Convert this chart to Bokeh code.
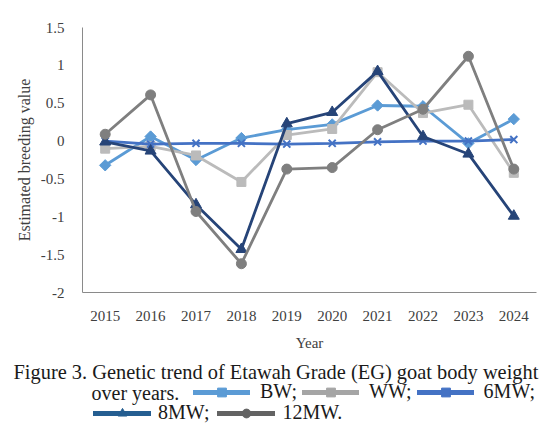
import math
from bokeh.plotting import figure
from bokeh.layouts import column
from bokeh.models import (FactorRange, Range1d, FixedTicker, Label, Legend, LegendItem, ColumnDataSource)
from bokeh.embed import file_html
from bokeh.resources import INLINE

years = ["2015", "2016", "2017", "2018", "2019", "2020", "2021", "2022", "2023", "2024"]
bw = [-0.32, 0.06, -0.25, 0.04, 0.15, 0.22, 0.47, 0.46, -0.03, 0.29]
ww = [-0.10, -0.07, -0.19, -0.54, 0.08, 0.16, 0.91, 0.37, 0.48, -0.42]
mw6 = [0.00, -0.04, -0.03, -0.03, -0.04, -0.03, -0.01, 0.00, 0.00, 0.02]
mw8 = [-0.01, -0.13, -0.84, -1.43, 0.23, 0.38, 0.92, 0.06, -0.17, -0.99]
mw12 = [0.09, 0.61, -0.93, -1.62, -0.37, -0.35, 0.15, 0.42, 1.12, -0.37]
yticks = [-2, -1.5, -1, -0.5, 0, 0.5, 1, 1.5]
ytick_labels = ["-2", "-1.5", "-1", "-0.5", "0", "0.5", "1", "1.5"]
series_names = ["BW;", "WW;", "6MW;", "8MW;", "12MW."]
caption_line1 = "Figure 3. Genetic trend of Etawah Grade (EG) goat body weight"
caption_line2 = "over  years."

FONT = "Liberation Serif"
TXT = "#404040"
CAP = "#1A1A1A"
W = 540
MAIN_H = 354
CAP_H = 73

p = figure(width=W, height=MAIN_H, x_range=FactorRange(*years, range_padding=0),
           y_range=Range1d(-2, 1.5), output_backend="svg", toolbar_location=None,
           min_border_left=82, min_border_right=4, min_border_top=27, min_border_bottom=62)
p.frame_align = False
p.outline_line_color = None
p.grid.visible = False

src = ColumnDataSource(dict(year=years, bw=bw, ww=ww, mw6=mw6, mw8=mw8, mw12=mw12))

specs = [
    ("bw", "#5B9BD5", "square", 8, math.pi / 4),
    ("ww", "#BBBBBB", "square", 9, 0),
    ("mw6", "#4472C4", "x", 10, 0),
    ("mw8", "#264478", "triangle", 11, 0),
    ("mw12", "#7F7F7F", "circle", 10, 0),
]
for col, color, marker, size, ang in specs:
    p.line("year", col, source=src, line_color=color, line_width=2.8)
    if marker == "x":
        p.scatter("year", col, source=src, marker=marker, size=size,
                  line_color=color, line_width=2)
    else:
        p.scatter("year", col, source=src, marker=marker, size=size, angle=ang,
                  fill_color=color, line_color=color)

p.yaxis.ticker = FixedTicker(ticks=yticks)
p.yaxis.major_label_overrides = dict(zip(yticks, ytick_labels))
for ax in (p.xaxis[0], p.yaxis[0]):
    ax.axis_line_color = "#8A8A8A"
    ax.axis_line_width = 1
    ax.major_tick_line_color = None
    ax.minor_tick_line_color = None
    ax.major_label_text_font = FONT
    ax.major_label_text_font_size = "15px"
    ax.major_label_text_color = TXT
    ax.axis_label_text_font = FONT
    ax.axis_label_text_font_style = "normal"
    ax.axis_label_text_color = TXT
p.yaxis.major_label_standoff = 12
p.xaxis.major_label_standoff = 12
p.yaxis.axis_label = "Estimated breeding value"
p.yaxis.axis_label_text_font_size = "16px"
p.yaxis.axis_label_standoff = 5
p.xaxis.axis_label = "Year"
p.xaxis.axis_label_text_font_size = "15px"
p.xaxis.axis_label_standoff = 11

# caption figure: data coordinates equal page pixels (y downward)
y0 = MAIN_H
cap = figure(width=W, height=CAP_H, x_range=Range1d(0, W), y_range=Range1d(y0 + CAP_H, y0),
             output_backend="svg", toolbar_location=None,
             x_axis_location=None, y_axis_location=None,
             min_border=0, min_border_left=0, min_border_right=0, min_border_top=0, min_border_bottom=0)
cap.frame_align = False
cap.grid.visible = False
cap.outline_line_color = None

cap.add_layout(Label(x=13, y=371, text=caption_line1, text_font=FONT, text_font_size="20.4px",
                     text_color=CAP, text_baseline="alphabetic"))
cap.add_layout(Label(x=91, y=392, text=caption_line2, text_font=FONT, text_font_size="20px",
                     text_color=CAP, text_baseline="alphabetic"))

leg_specs = [
    ("#5B9BD5", "square", math.pi / 4),
    ("#A5A5A5", "square", 0),
    ("#4472C4", "square", math.pi / 4),
    ("#255E91", "triangle", 0),
    ("#636363", "circle", 0),
]
nan = float("nan")
items = []
for (color, marker, ang), name in zip(leg_specs, series_names):
    l = cap.line(x=[nan], y=[nan], line_color=color, line_width=5, line_cap="round")
    s = cap.scatter(x=[nan], y=[nan], marker=marker, angle=ang, size=9,
                    fill_color=color, line_color=color)
    items.append(LegendItem(label=name, renderers=[l, s]))

def make_legend(its, loc, gw, standoff, spacing):
    return Legend(items=its, location=loc, orientation="horizontal",
                  glyph_width=gw, glyph_height=22, label_standoff=standoff, spacing=spacing,
                  padding=0, margin=0, border_line_color=None, background_fill_alpha=0,
                  label_text_font=FONT, label_text_font_size="20px",
                  label_text_color=CAP, label_height=22)

H_TOT = y0 + CAP_H
cap.add_layout(make_legend(items[:3], (193, H_TOT - (392 + 11)), 57, 10, 5))
cap.add_layout(make_legend(items[3:], (93, H_TOT - (413 + 11)), 58, 7, 8))

open("out.html", "w").write(file_html(column(p, cap), INLINE))
